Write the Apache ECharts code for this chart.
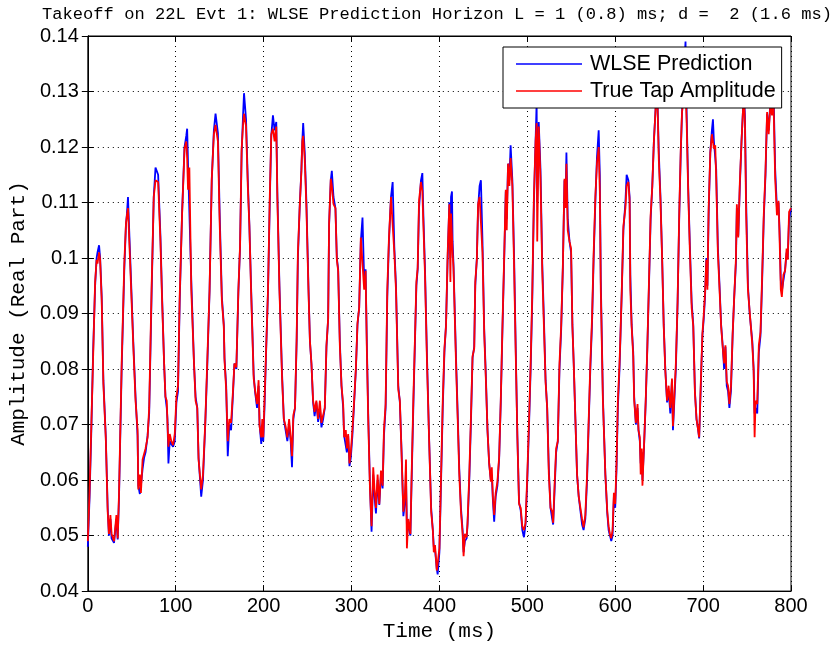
<!DOCTYPE html>
<html>
<head>
<meta charset="utf-8">
<script src="https://cdn.jsdelivr.net/npm/echarts@6/dist/echarts.min.js"></script>
<style>html,body{margin:0;padding:0;background:#fff}#c{width:837px;height:647px}</style>
</head>
<body>
<div id="c"></div>
<script>
const chartTitle = 'Takeoff on 22L Evt 1: WLSE Prediction Horizon L = 1 (0.8) ms; d =  2 (1.6 ms)';
const seriesNames = ['WLSE Prediction', 'True Tap Amplitude'];
const xTicks = [0, 100, 200, 300, 400, 500, 600, 700, 800];
const yTicks = [0.04, 0.05, 0.06, 0.07, 0.08, 0.09, 0.1, 0.11, 0.12, 0.13, 0.14];

const timeMs = [
0,2,4,6,8.3,10,11,12.8,14,15.8,17.7,20.4,22.6,24,25.7,27,29.8,32.5,34,35.5,38.5,41.5,43.4,44.5,45.7,48,51.7,54.3,56.6,57.4,59.2,60.4,62.3,64,65.7,68,69.8,72.5,75,77,80,82.6,84.5,86.8,88.3,89.8,90.6,91.7,93.2,95,97,98.9,
100.8,102.6,104.5,107.2,110,112,113,114,115.5,117.7,120.8,122.6,124.5,126,127.5,129,131,133.6,135.8,138.5,141,143.4,145.3,148,150,152.5,154.7,155.5,157.4,159.2,161,163,165,166.8,169,171.3,173.2,175,176.6,177.7,180,182,183.8,185.7,188.7,190.2,192.5,194.3,195.4,197.3,198.5,199.6,
201,203,205,207,208.7,210.6,212.5,214.4,215.6,218,221,223,225,227,229,230.8,232.3,233.8,235.7,237.6,239,241,243,244,245,246.8,248.7,251,252.7,254.4,256.3,258,260,262,264,265.8,267.7,269.6,271.5,273.4,274.5,276.4,277.6,279.5,281.7,283.3,284.8,286.7,288.6,290.5,291.6,293.5,294.7,296.2,297.7,299.2,
301,303,305,306.8,308.7,310.6,312.5,314.4,316,317.5,319,321,322.8,324.7,326.2,327.8,329.7,331.6,333.5,335.4,336.9,338.8,340.7,342.6,344.9,346.8,348.7,350.6,353.2,355,357,359,360.8,362,363,364.6,367,368.4,370.3,372.2,373.8,375.3,376.8,379,380.6,381.7,383.6,385.9,388.2,390.6,392.5,393.6,395,397,398,
400,401.9,403.8,405.7,407.5,409.4,411.3,412.5,413.2,414.3,415,416,418.9,420.8,422.6,424.5,426.4,427.5,429,431,432,434,435.8,437.7,439.6,440.8,442.6,444,445.7,447.2,449,451,452.8,454.7,456.6,458.5,459.6,460.8,462.3,464,466,468,469.8,471.7,473.6,475.5,476.6,478.1,479.6,481,483,485,486.8,488.7,490.6,492.5,494.3,496.2,498,
500,502,503.8,505.7,507.5,509.4,510.6,511.3,513,515,517,518.9,520.8,522.6,524.5,526.4,528.3,529.4,531,532.8,534.7,536.6,538.5,540.4,542.3,543.4,544.5,546,548,549.8,551.3,552.8,554.7,556.6,558.5,560.4,562.3,564,566,568,570,571.7,573.6,575.5,577.4,579.2,581.2,582.5,583.6,586,588.8,591,592.5,594,595.5,597,598.5,
600,601.5,603,604.9,606,607.5,609.3,611.6,613,615,616.4,617.2,618.7,620.5,621.6,623.5,625.4,626.5,628,629,630.2,631,632.8,634.7,636.6,638.4,640.3,642.2,644,646,648,649.6,651.5,653.4,655.2,657,659,660.8,662.7,664.6,665.7,667.2,669,671,672.8,674.6,676,678,680,681.3,683,685,687,688.8,690.7,692.5,694.4,695.5,697.4,699.2,
700.7,702.2,703.7,704.9,706.3,708.2,710,711.2,712.3,713.8,714.9,716.8,718.7,720.5,722.4,723.9,725.4,726.9,728.4,729.9,731.7,733.6,735.4,737.3,738.4,740,741.8,743.7,745.5,746.5,747.6,749,751,753,754.5,756,757.5,758.6,759.7,761.6,763.4,765.3,767.2,769,771,772.8,774.6,776.5,778.4,780,782,784,785.8,787,788.4,789.6,791.4,793.3,795,796.3,797.8,800
];

const trueTap = [
0.049,0.058,0.070,0.082,0.0957,0.0997,0.099,0.101,0.0997,0.0923,0.0773,0.0677,0.0543,0.0503,0.0537,0.0503,0.0490,0.0537,0.0495,0.0577,0.081,0.099,0.1063,0.1077,0.109,0.0997,0.0843,0.0743,0.069,0.0583,0.061,0.0577,0.0637,0.0637,0.0657,0.0677,0.073,0.0943,0.111,0.114,0.1137,0.103,0.0923,0.081,0.075,0.0743,0.0703,0.066,0.0683,0.067,0.0663,0.0683,
0.075,0.077,0.093,0.1077,0.1197,0.121,0.118,0.1123,0.1163,0.0943,0.081,0.0743,0.073,0.0637,0.061,0.0583,0.061,0.0703,0.081,0.0943,0.1143,0.1223,0.124,0.121,0.1063,0.0923,0.0877,0.0817,0.0763,0.067,0.071,0.0703,0.0757,0.081,0.0803,0.0943,0.1023,0.1197,0.124,0.126,0.1237,0.113,0.1057,0.0943,0.0783,0.0763,0.0737,0.078,0.0697,0.0677,0.071,0.0677,
0.0743,0.0843,0.0943,0.111,0.1223,0.1233,0.121,0.1237,0.111,0.0943,0.0783,0.071,0.0697,0.0677,0.071,0.0677,0.0643,0.0717,0.073,0.0857,0.101,0.109,0.1157,0.121,0.122,0.1177,0.109,0.0943,0.085,0.081,0.0743,0.0723,0.0743,0.071,0.0743,0.0703,0.0717,0.073,0.0843,0.089,0.1063,0.1143,0.113,0.1097,0.109,0.0997,0.0977,0.0843,0.077,0.0737,0.0677,0.069,0.0657,0.0683,0.063,0.065,
0.069,0.0743,0.0803,0.0883,0.091,0.1037,0.104,0.0943,0.0977,0.083,0.071,0.0583,0.0517,0.0623,0.0583,0.055,0.061,0.0557,0.0617,0.059,0.069,0.0737,0.0943,0.1037,0.111,0.1113,0.101,0.0943,0.0763,0.0743,0.0643,0.0543,0.0577,0.0637,0.0477,0.053,0.0503,0.061,0.0743,0.0857,0.0957,0.0983,0.1103,0.1137,0.112,0.1063,0.097,0.081,0.0677,0.0543,0.051,0.047,0.0483,0.0437,0.0435,
0.0477,0.061,0.0743,0.0837,0.0877,0.101,0.1097,0.0957,0.108,0.104,0.101,0.0983,0.081,0.071,0.061,0.0543,0.0503,0.0463,0.0503,0.0497,0.0523,0.061,0.071,0.0823,0.0837,0.0957,0.0997,0.1097,0.111,0.111,0.101,0.0863,0.0783,0.069,0.063,0.0597,0.0623,0.057,0.0537,0.0577,0.0597,0.0643,0.0743,0.0877,0.0997,0.1123,0.105,0.117,0.113,0.118,0.113,0.0983,0.083,0.0677,0.0557,0.055,0.0517,0.051,0.0523,
0.061,0.071,0.081,0.0943,0.111,0.121,0.1243,0.103,0.1237,0.1143,0.0977,0.0877,0.0777,0.073,0.061,0.055,0.0543,0.0523,0.059,0.0657,0.067,0.081,0.0877,0.0983,0.1143,0.109,0.117,0.105,0.103,0.1017,0.0877,0.081,0.071,0.061,0.057,0.055,0.053,0.0515,0.0537,0.061,0.0717,0.081,0.089,0.101,0.111,0.117,0.120,0.112,0.0943,0.0743,0.061,0.0543,0.0517,0.0503,0.0495,0.051,0.0577,
0.0557,0.063,0.0743,0.081,0.0863,0.0943,0.1057,0.109,0.113,0.1137,0.1103,0.0943,0.0877,0.0823,0.0743,0.0703,0.0737,0.069,0.0677,0.061,0.0657,0.059,0.0663,0.0743,0.0843,0.0957,0.1077,0.113,0.121,0.127,0.1285,0.1177,0.1103,0.0997,0.0877,0.0797,0.0743,0.077,0.073,0.0783,0.0697,0.075,0.081,0.0923,0.1077,0.1197,0.1263,0.129,0.131,0.1243,0.1123,0.101,0.091,0.0877,0.0757,0.071,0.069,0.0677,0.0777,0.0863,
0.0897,0.0937,0.0997,0.0943,0.109,0.119,0.1223,0.121,0.1197,0.1203,0.1143,0.101,0.0943,0.0877,0.0837,0.081,0.0843,0.0777,0.077,0.0737,0.077,0.0863,0.093,0.0997,0.1097,0.1037,0.1137,0.121,0.127,0.1285,0.1243,0.1077,0.0943,0.0903,0.0903,0.0843,0.0797,0.0677,0.0743,0.0737,0.0843,0.0867,0.097,0.1077,0.1157,0.1263,0.1223,0.1277,0.1257,0.129,0.1143,0.1077,0.1103,0.1037,0.0943,0.093,0.097,0.0977,0.1017,0.0997,0.1083,0.109
];

const wlsePred = [
0.048,0.057,0.069,0.083,0.095,0.100,0.101,0.1023,0.100,0.093,0.078,0.068,0.055,0.050,0.053,0.0495,0.0487,0.053,0.0493,0.057,0.080,0.098,0.106,0.108,0.111,0.101,0.085,0.075,0.068,0.059,0.0575,0.059,0.062,0.064,0.065,0.068,0.072,0.093,0.111,0.1163,0.115,0.104,0.093,0.081,0.075,0.073,0.071,0.063,0.067,0.0665,0.066,0.067,
0.074,0.076,0.092,0.108,0.120,0.122,0.1233,0.117,0.117,0.096,0.081,0.075,0.073,0.064,0.0605,0.057,0.060,0.070,0.080,0.094,0.114,0.123,0.126,0.1225,0.108,0.093,0.088,0.082,0.077,0.0643,0.070,0.069,0.075,0.081,0.080,0.094,0.102,0.119,0.1257,0.1297,0.125,0.114,0.106,0.095,0.079,0.076,0.073,0.077,0.070,0.0665,0.070,0.067,
0.073,0.084,0.094,0.110,0.122,0.1257,0.123,0.1245,0.112,0.095,0.079,0.071,0.069,0.067,0.070,0.067,0.0623,0.071,0.073,0.085,0.100,0.109,0.116,0.121,0.1243,0.119,0.110,0.095,0.085,0.081,0.074,0.0715,0.074,0.0705,0.073,0.0695,0.071,0.073,0.084,0.089,0.106,0.114,0.1157,0.111,0.109,0.100,0.098,0.085,0.077,0.073,0.068,0.068,0.065,0.068,0.0625,0.064,
0.068,0.074,0.080,0.088,0.091,0.103,0.1073,0.096,0.098,0.084,0.072,0.059,0.0507,0.061,0.057,0.054,0.060,0.0555,0.061,0.0585,0.068,0.073,0.093,0.103,0.111,0.1137,0.102,0.095,0.077,0.074,0.065,0.0535,0.056,0.060,0.052,0.0515,0.050,0.060,0.073,0.085,0.095,0.098,0.109,0.114,0.1153,0.108,0.098,0.082,0.068,0.055,0.051,0.048,0.0475,0.044,0.043,
0.047,0.060,0.073,0.083,0.088,0.100,0.110,0.100,0.111,0.112,0.103,0.099,0.082,0.072,0.062,0.055,0.051,0.047,0.049,0.0495,0.052,0.060,0.070,0.082,0.084,0.095,0.100,0.109,0.113,0.114,0.103,0.087,0.079,0.069,0.063,0.060,0.061,0.0565,0.0525,0.057,0.059,0.064,0.074,0.087,0.099,0.112,0.107,0.117,0.114,0.1203,0.114,0.100,0.084,0.068,0.056,0.0545,0.051,0.0497,0.052,
0.060,0.070,0.080,0.093,0.110,0.121,0.128,0.110,0.1245,0.116,0.099,0.089,0.078,0.073,0.062,0.055,0.053,0.052,0.058,0.065,0.067,0.080,0.087,0.098,0.114,0.110,0.119,0.107,0.103,0.101,0.088,0.081,0.071,0.061,0.057,0.0545,0.052,0.051,0.053,0.060,0.071,0.080,0.088,0.100,0.110,0.118,0.123,0.115,0.096,0.075,0.061,0.054,0.051,0.050,0.049,0.050,0.057,
0.055,0.062,0.073,0.080,0.086,0.094,0.105,0.110,0.115,0.114,0.111,0.097,0.088,0.083,0.075,0.070,0.073,0.069,0.067,0.063,0.065,0.060,0.066,0.074,0.084,0.095,0.107,0.113,0.121,0.127,0.129,0.119,0.111,0.100,0.088,0.080,0.074,0.076,0.072,0.078,0.069,0.074,0.080,0.092,0.107,0.119,0.126,0.133,0.139,0.126,0.113,0.102,0.092,0.088,0.076,0.071,0.069,0.0675,0.077,0.086,
0.089,0.093,0.100,0.095,0.108,0.119,0.123,0.125,0.121,0.121,0.116,0.102,0.095,0.088,0.084,0.080,0.084,0.077,0.076,0.073,0.076,0.086,0.093,0.099,0.109,0.104,0.113,0.121,0.127,0.130,0.1255,0.110,0.095,0.090,0.090,0.085,0.080,0.072,0.073,0.072,0.083,0.086,0.096,0.107,0.115,0.126,0.123,0.128,0.127,0.131,0.116,0.109,0.110,0.105,0.096,0.094,0.096,0.098,0.101,0.100,0.107,0.109
];

function pairs(xs, ys) { return xs.map((x, i) => [x, ys[i]]); }

const mono = 'Liberation Mono';
const sans = 'Liberation Sans';
const chart = echarts.init(document.getElementById('c'), null, {renderer: 'canvas'});

const baseX = {
  type: 'value', min: xTicks[0], max: xTicks[xTicks.length - 1], interval: 100,
  axisLine: {show: true, lineStyle: {color: '#000', width: 1}},
  axisTick: {show: true, inside: true, length: 6, lineStyle: {color: '#000'}},
  splitLine: {show: false}
};
const baseY = {
  type: 'value', min: yTicks[0], max: yTicks[yTicks.length - 1], interval: 0.01,
  axisLine: {show: true, lineStyle: {color: '#000', width: 1}},
  axisTick: {show: true, inside: true, length: 6, lineStyle: {color: '#000'}},
  splitLine: {show: false}
};

chart.setOption({
  animation: false,
  backgroundColor: '#fff',
  title: {
    text: chartTitle, left: 432, top: 1, textAlign: 'center',
    textStyle: {fontFamily: mono, fontSize: 17.1, fontWeight: 'normal', color: '#000'}
  },
  grid: {left: 86, right: 46, top: 36, bottom: 52, show: true, borderColor: '#000', borderWidth: 1, backgroundColor: '#fff'},
  legend: {
    data: seriesNames, orient: 'vertical', left: 503, top: 47,
    backgroundColor: '#fff', borderColor: '#000', borderWidth: 1, borderRadius: 0,
    padding: [4, 6, 4, 13], itemGap: 1, itemWidth: 66, itemHeight: 1.5, icon: 'rect',
    textStyle: {fontFamily: sans, fontSize: 21.5, color: '#000', lineHeight: 26, padding: [0, 0, 0, 3]}
  },
  xAxis: [
    Object.assign({}, baseX, {
      position: 'bottom', name: 'Time (ms)', nameLocation: 'middle', nameGap: 27,
      nameTextStyle: {fontFamily: mono, fontSize: 21, color: '#000'},
      axisLabel: {fontFamily: sans, fontSize: 20, color: '#000', margin: 5},
      splitLine: {show: true, lineStyle: {color: '#000', width: 1, type: [1, 4]}}
    }),
    Object.assign({}, baseX, {position: 'top', axisLabel: {show: false}})
  ],
  yAxis: [
    Object.assign({}, baseY, {
      position: 'left', name: 'Amplitude (Real Part)', nameLocation: 'middle', nameGap: 55,
      nameTextStyle: {fontFamily: mono, fontSize: 21, color: '#000'},
      axisLabel: {fontFamily: sans, fontSize: 20, color: '#000', margin: 9,
        formatter: v => String(parseFloat(v.toFixed(2)))},
      splitLine: {show: true, lineStyle: {color: '#000', width: 1, type: [1, 4]}}
    }),
    Object.assign({}, baseY, {position: 'right', axisLabel: {show: false}})
  ],
  series: [
    {
      name: seriesNames[0], type: 'line', xAxisIndex: 0, yAxisIndex: 0,
      data: pairs(timeMs, wlsePred), showSymbol: false, symbol: 'none',
      lineStyle: {color: '#0000ff', width: 1.8}, itemStyle: {color: '#0000ff'}, z: 2
    },
    {
      name: seriesNames[1], type: 'line', xAxisIndex: 0, yAxisIndex: 0,
      data: pairs(timeMs, trueTap), showSymbol: false, symbol: 'none',
      lineStyle: {color: '#ff0000', width: 1.8}, itemStyle: {color: '#ff0000'}, z: 3
    }
  ]
});
</script>
</body>
</html>
